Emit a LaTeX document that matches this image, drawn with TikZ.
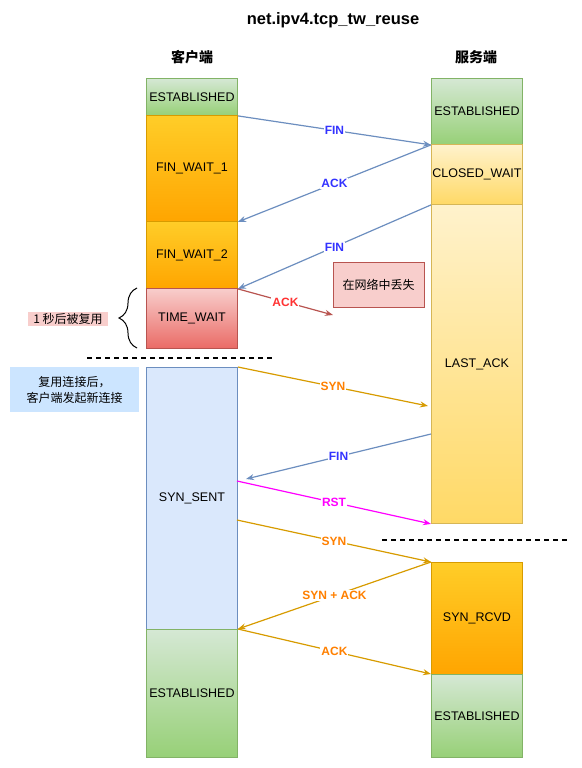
\documentclass[tikz,border=0pt]{standalone}
\usepackage{fontspec}
\setmainfont{Liberation Sans}
\newfontfamily\cjk{Noto Sans CJK SC}
\usetikzlibrary{arrows.meta,decorations.pathreplacing}
\definecolor{grnA}{HTML}{D5E8D4}
\definecolor{grnB}{HTML}{97D077}
\definecolor{grnL}{HTML}{82B366}
\definecolor{orgA}{HTML}{FFCD28}
\definecolor{orgB}{HTML}{FFA500}
\definecolor{orgL}{HTML}{D79B00}
\definecolor{ylwA}{HTML}{FFF2CC}
\definecolor{ylwB}{HTML}{FFD966}
\definecolor{ylwL}{HTML}{D6B656}
\definecolor{redA}{HTML}{F8CECC}
\definecolor{redB}{HTML}{EA6B66}
\definecolor{redL}{HTML}{B85450}
\definecolor{bluA}{HTML}{DAE8FC}
\definecolor{bluL}{HTML}{6C8EBF}
\definecolor{noteB}{HTML}{CCE5FF}
\definecolor{txtB}{HTML}{3333FF}
\definecolor{txtR}{HTML}{FF3333}
\definecolor{txtO}{HTML}{FF8000}
\definecolor{txtM}{HTML}{FF00FF}
\begin{document}
\begin{tikzpicture}[x=1pt,y=-1pt,
  state/.style={anchor=north west,minimum width=91pt,inner sep=0pt,line width=0.9pt,
    font=\fontsize{12.5}{14}\selectfont},
  tall/.style={minimum height=#1pt},
  estab/.style={draw=grnL,top color=grnA,bottom color=grnB},
  wait/.style={draw=orgL,top color=orgA,bottom color=orgB},
  soft/.style={draw=ylwL,top color=ylwA,bottom color=ylwB},
  tw/.style={draw=redL,top color=redA,bottom color=redB},
  sent/.style={draw=bluL,fill=bluA},
  msg/.style={draw=#1,line width=1.2pt,-{Stealth[length=8pt,width=6pt]}},
  lbl/.style={fill=white,inner sep=1pt,text=#1,font=\bfseries\fontsize{12}{12}\selectfont},
  sep/.style={line width=1.2pt,dash pattern=on 5pt off 4pt}]
\useasboundingbox (0,0) rectangle (581,768);
\node[font=\bfseries\fontsize{16.5}{18}\selectfont] (title) at (333,20) {net.ipv4.tcp\_tw\_reuse};
\node[font=\cjk\bfseries\fontsize{14}{16}\selectfont] (client) at (192,57) {客户端};
\node[font=\cjk\bfseries\fontsize{14}{16}\selectfont] (server) at (476,57) {服务端};
\node[state,tall=37,estab] (c1) at (146,78) {ESTABLISHED};
\node[state,tall=106,wait] (c2) at (146,115) {FIN\_WAIT\_1};
\node[state,tall=67,wait] (c3) at (146,221) {FIN\_WAIT\_2};
\node[state,tall=60,tw] (c4) at (146,288) {TIME\_WAIT};
\node[state,tall=262,sent] (c5) at (146,367) {SYN\_SENT};
\node[state,tall=128,estab] (c6) at (146,629) {ESTABLISHED};
\node[state,tall=66,estab] (s1) at (431,78) {ESTABLISHED};
\node[state,tall=60,soft] (s2) at (431,144) {CLOSED\_WAIT};
\node[state,tall=319,soft] (s3) at (431,204) {LAST\_ACK};
\node[state,tall=112,wait] (s4) at (431,562) {SYN\_RCVD};
\node[state,tall=83,estab] (s5) at (431,674) {ESTABLISHED};
\node[draw=redL,fill=redA,line width=0.9pt,minimum width=91pt,minimum height=45pt,
  font=\cjk\fontsize{12}{14}\selectfont] (lost) at (378.5,284.5) {在网络中丢失};
\node[fill=redA,inner xsep=5pt,inner ysep=1.5pt,font=\cjk\fontsize{12}{14}\selectfont] (reuse) at (68,319) {1 秒后被复用};
\node[fill=noteB,minimum width=129pt,minimum height=45pt,align=center,
  font=\cjk\fontsize{12}{16}\selectfont] (newconn) at (74.5,389.5) {复用连接后，\\客户端发起新连接};
\coordinate (ackend) at (333,315);
\coordinate (syn1end) at (428,406);
\coordinate (fin3start) at (431,434);
\coordinate (fin3end) at (246,479);
\coordinate (rststart) at (237,481);
\coordinate (syn2start) at (237,520);
\draw[decorate,decoration={brace,amplitude=18pt},line width=1pt] (137,348) -- (137,288);
\draw[sep] (87,358) -- (272,358);
\draw[sep] (382,540) -- (568,540);
\draw[msg=bluL] (c1.south east) -- node[lbl=txtB] {FIN} (s1.south west);
\draw[msg=bluL] (s1.south west) -- node[lbl=txtB] {ACK} (c2.south east);
\draw[msg=bluL] (s2.south west) -- node[lbl=txtB] {FIN} (c3.south east);
\draw[msg=redL] (c3.south east) -- node[lbl=txtR] {ACK} (ackend);
\draw[msg=orgL] (c5.north east) -- node[lbl=txtO] {SYN} (syn1end);
\draw[msg=bluL] (fin3start) -- node[lbl=txtB] {FIN} (fin3end);
\draw[msg=txtM] (rststart) -- node[lbl=txtM] {RST} (s3.south west);
\draw[msg=orgL] (syn2start) -- node[lbl=txtO] {SYN} (s4.north west);
\draw[msg=orgL] (s4.north west) -- node[lbl=txtO] {SYN + ACK} (c6.north east);
\draw[msg=orgL] (c6.north east) -- node[lbl=txtO] {ACK} (s5.north west);
\end{tikzpicture}
\end{document}
